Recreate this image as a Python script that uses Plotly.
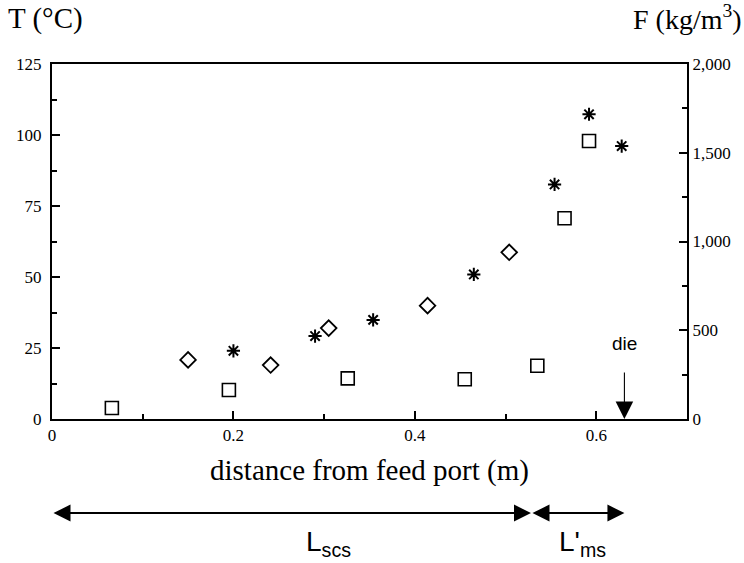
import plotly.graph_objects as go

# Axial profiles along the extruder (distance from feed port, m)
x_diamond = [0.150, 0.241, 0.305, 0.414, 0.504]
t_diamond = [20.8, 19.0, 32.0, 39.9, 58.7]

x_star = [0.200, 0.290, 0.354, 0.465, 0.554, 0.592, 0.628]
t_star = [24.0, 29.2, 34.9, 50.9, 82.6, 107.3, 96.1]

x_square = [0.066, 0.195, 0.326, 0.455, 0.535, 0.565, 0.592]
f_square = [62, 163, 229, 224, 300, 1131, 1566]

x_ticks = [0, 0.2, 0.4, 0.6]
x_ticktext = ["0", "0.2", "0.4", "0.6"]
t_ticks = [0, 25, 50, 75, 100, 125]
f_ticks = [0, 500, 1000, 1500, 2000]

die_x = 0.631
scs_end = 0.528

SERIF = "Liberation Serif"
SANS = "Liberation Sans"

fig = go.Figure()
fig.add_trace(go.Scatter(
    x=x_diamond, y=t_diamond, mode="markers", yaxis="y",
    marker=dict(symbol="diamond-open", size=12, color="black", line=dict(width=1.8)),
))
fig.add_trace(go.Scatter(
    x=x_star, y=t_star, mode="markers", yaxis="y",
    marker=dict(symbol="asterisk-open", size=11, color="black", line=dict(width=2, color="black")),
))
fig.add_trace(go.Scatter(
    x=x_square, y=f_square, mode="markers", yaxis="y2",
    marker=dict(symbol="square-open", size=13, color="black", line=dict(width=1.6)),
))

axis_common = dict(
    showgrid=False, zeroline=False, showline=True, linecolor="black", linewidth=2,
    ticks="inside", tickcolor="black", tickwidth=2, ticklen=8,
    tickfont=dict(family=SERIF, size=17, color="black"),
)

fig.update_layout(
    width=744, height=563,
    margin=dict(l=52, r=57, t=64, b=144),
    paper_bgcolor="white", plot_bgcolor="white",
    showlegend=False,
    xaxis=dict(
        range=[0, 0.7], tickvals=x_ticks, ticktext=x_ticktext, mirror=True,
        minor=dict(ticks="inside", ticklen=5, tickwidth=1.5, tickcolor="black", dtick=0.1, tick0=0),
        **axis_common,
    ),
    yaxis=dict(
        range=[0, 125], tickvals=t_ticks, ticklabelstandoff=5,
        minor=dict(ticks="inside", ticklen=5, tickwidth=1.5, tickcolor="black", dtick=12.5, tick0=0),
        **axis_common,
    ),
    yaxis2=dict(
        range=[0, 2000], tickvals=f_ticks, tickformat=",d", overlaying="y", side="right",
        minor=dict(ticks="inside", ticklen=5, tickwidth=1.5, tickcolor="black", dtick=250, tick0=0),
        **axis_common,
    ),
)

arrow_y = -0.265
annotations = [
    dict(text="T (°C)", xref="paper", yref="paper", x=-0.072, y=1.075, xanchor="left", yanchor="bottom",
         showarrow=False, font=dict(family=SERIF, size=29, color="black")),
    dict(text="F (kg/m<sup>3</sup>)", xref="paper", yref="paper", x=1.09, y=1.075, xanchor="right",
         yanchor="bottom", showarrow=False, font=dict(family=SERIF, size=28, color="black")),
    dict(text="distance from feed port (m)", xref="paper", yref="paper", x=0.5, y=-0.145,
         xanchor="center", yanchor="middle", showarrow=False, font=dict(family=SERIF, size=29, color="black")),
    # die marker
    dict(text="", x=die_x, y=0, xref="x", yref="y", ax=0, ay=-48, axref="pixel", ayref="pixel",
         showarrow=True, arrowhead=2, arrowsize=3.2, arrowwidth=1.1, arrowcolor="black"),
    dict(text="die", x=die_x, y=0.214, xref="x", yref="paper", xanchor="center", yanchor="middle",
         showarrow=False, font=dict(family=SANS, size=19, color="black")),
    # zone length arrows
    dict(text="", x=scs_end, y=arrow_y, xref="x", yref="paper", ax=0, ay=0, axref="x", ayref="pixel",
         showarrow=True, arrowhead=2, startarrowhead=2, arrowside="end+start", arrowsize=1.7,
         startarrowsize=1.7, arrowwidth=2, arrowcolor="black"),
    dict(text="", x=die_x, y=arrow_y, xref="x", yref="paper", ax=scs_end, ay=0, axref="x", ayref="pixel",
         showarrow=True, arrowhead=2, startarrowhead=2, arrowside="end+start", arrowsize=1.7,
         startarrowsize=1.7, arrowwidth=2, arrowcolor="black"),
    dict(text="L<sub>scs</sub>", x=0.305, y=-0.35, xref="x", yref="paper", xanchor="center",
         yanchor="middle", showarrow=False, font=dict(family=SANS, size=28, color="black")),
    dict(text="L'<sub>ms</sub>", x=0.585, y=-0.35, xref="x", yref="paper", xanchor="center",
         yanchor="middle", showarrow=False, font=dict(family=SANS, size=28, color="black")),
]
fig.update_layout(annotations=annotations)

fig.write_html("out.html")
